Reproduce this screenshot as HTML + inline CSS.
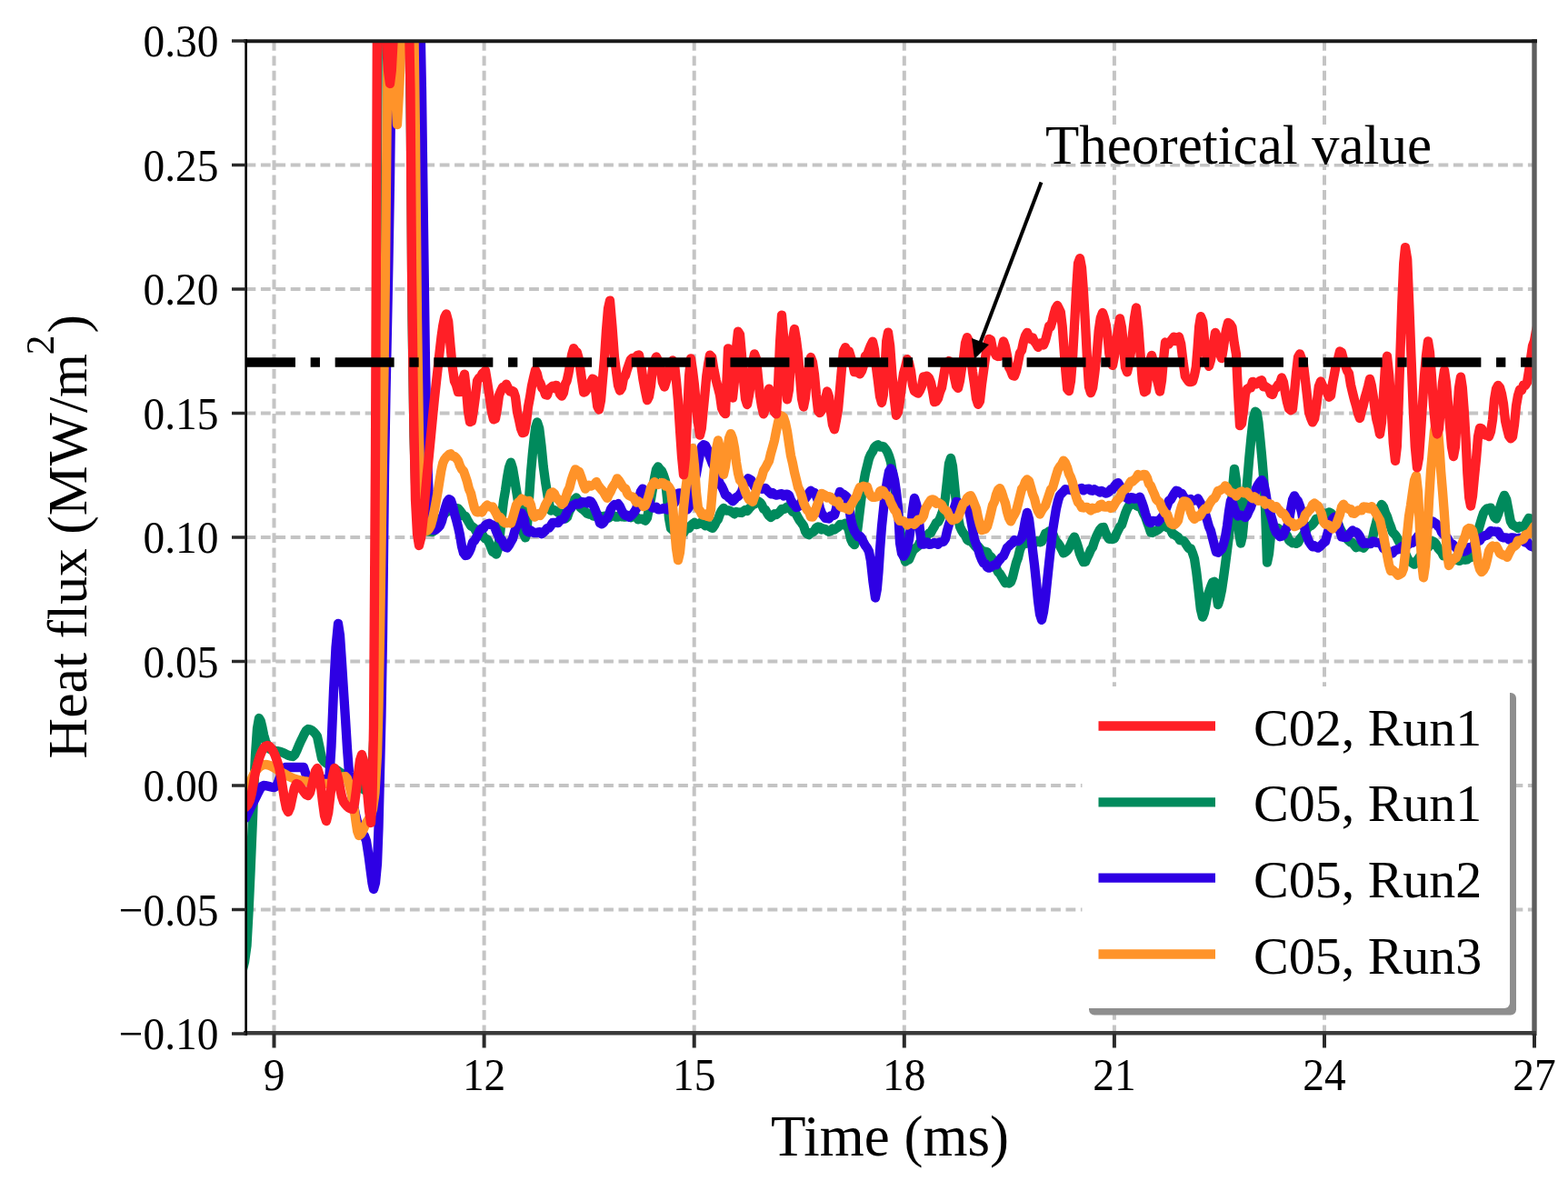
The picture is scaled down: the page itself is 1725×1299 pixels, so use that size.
<!DOCTYPE html>
<html><head><meta charset="utf-8"><title>Heat flux</title>
<style>html,body{margin:0;padding:0;background:#fff;overflow:hidden;}svg{display:block;}text{font-family:"Liberation Serif","Times New Roman",serif;fill:#000;}</style>
</head><body>
<svg width="1725" height="1299" viewBox="0 0 1725 1299">
<rect width="1725" height="1299" fill="#fff"/>
<defs><clipPath id="ax"><rect x="270.5" y="45.0" width="1417.5" height="1092.0"/></clipPath></defs>
<path d="M301.5,45 V1137 M532.6,45 V1137 M763.7,45 V1137 M994.8,45 V1137 M1225.9,45 V1137 M1457,45 V1137 M270.5,181.5 H1688 M270.5,318 H1688 M270.5,454.5 H1688 M270.5,591 H1688 M270.5,727.5 H1688 M270.5,864 H1688 M270.5,1000.5 H1688" stroke="#c4c4c4" stroke-width="4" stroke-dasharray="10.8 5.6" fill="none"/>
<rect x="1146" y="137" width="434" height="43" fill="#fff"/>
<g clip-path="url(#ax)" fill="none" stroke-width="10.3" stroke-linejoin="round" stroke-linecap="round">
<path d="M262,1085 L264.2,1077.2 L266.5,1068 L269,1058.1 L271.5,1040 L273.7,1000 L275.5,960 L278,900 L279.5,862.7 L281,830 L283,801.2 L285,790 L286.8,793.1 L288.5,800.3 L290.2,808.6 L292,815 L294.5,820.8 L297,824 L299,824.8 L301,825.4 L303,825.8 L305,826.1 L307,826.5 L309,827 L311.2,827.8 L313.3,828.9 L315.5,830 L317.7,831 L319.8,831.7 L322,832 L324.2,830.1 L326.5,825.5 L328.8,819.9 L331,815 L333,811 L335,806.8 L337,803.4 L339,802 L341,802.3 L343,803.3 L345,804.9 L347,807.1 L349,810 L351.5,821.9 L354,834 L356.2,837.2 L358.5,839.1 L360.8,840.5 L363,842 L365,843.5 L367,844.9 L369,846.2 L371,847.4 L373,848.7 L375,850 L376.9,851.2 L378.8,852.5 L380.6,853.8 L382.5,855 L384.4,856.2 L386.2,857.5 L388.1,858.8 L390,860 L391.9,861.4 L393.8,863 L395.6,864.6 L397.5,866.2 L399.4,867.7 L401.2,868.9 L403.1,869.7 L405,870 L406.8,865.6 L408.5,852.5 L410.2,830.6 L412,800 L414,500 L415,200 L416,0 L418,0 L420,0 L422,0 L424,0 L426,0 L428,0 L430,0 L432,0 L434,0 L436,0 L438,0 L440,0 L442,0 L444,0 L446,0 L448,0 L450,0 L452,150 L453.5,350 L455.5,480 L457.2,536.1 L459,560 L461.5,576.2 L464,582 L466,582.9 L468,583.7 L470,584.2 L472,584.7 L474,584.9 L476,585 L478,583.5 L480,579.9 L482,575.6 L484,572.1 L486,569.5 L488,566.5 L490,564 L492,562.8 L494,560.6 L496,559.1 L498,557.4 L500,558.8 L502,559.1 L504,559.4 L506,561.5 L508,564.2 L510,567.5 L512,567.8 L514,571.5 L516,575 L518,578.4 L520,579.5 L522,581 L524,584.7 L526,585.5 L528,586.6 L530,586.8 L532,590.5 L534,592.4 L536,593.4 L538,596.8 L540,601.6 L542,607 L544,607.8 L546,609.6 L548,603.5 L550,588.2 L552,567.8 L554,550.8 L556,539.3 L558,525.1 L560,514.3 L562,508.7 L564,515.2 L566,526.8 L568,539.1 L570,551.4 L572,563.9 L574,578.6 L576,586.9 L578,591.4 L580,578 L582,548.6 L584,519.9 L585.8,499.8 L587.5,483.5 L589.2,470.1 L591,464.4 L593.2,471.1 L595.5,490 L597.8,513.4 L600,529.6 L602,542.2 L604,553.8 L606,561.5 L608,560.6 L610,561.2 L612,562.3 L614,563.7 L616,564.2 L618,564.8 L620,569.4 L622,570.5 L624,568.7 L626,563 L628,559.1 L630,554.8 L632,549.3 L634,547.5 L636,550.2 L638,557.7 L640,559.6 L642,560.8 L644,562.8 L646,564.9 L648,565.5 L650,564.6 L652,567.2 L654,567.8 L656,568.2 L658,566.7 L660,567.9 L662,569.2 L664,567.8 L666,567.5 L668,567.3 L670,569.4 L672,567.8 L674,567.2 L676,567.8 L678,568.7 L680,568.6 L682,566.6 L684,568.3 L686,568.5 L688,568.6 L690,566.9 L692,567.7 L694,569.2 L696,568.1 L698,568.2 L700,568.4 L702,571.4 L704,570.8 L706,570.6 L708,571.6 L710,572.6 L712,569.6 L714,559.1 L716,549.3 L718,537.3 L720,526.2 L722,516.3 L724,513.4 L726,516.2 L728,518 L730,522.7 L732,529 L734,548 L736,570 L738,581.2 L740,582.9 L742,584.7 L744,586 L746,584.2 L748,585.8 L750,586.4 L752,586.2 L754,583.2 L756,581.3 L758,581.1 L760,578.1 L762,576.3 L764,574.9 L766,577.1 L768,576.5 L770,575.2 L772,575.6 L774,576.6 L776,578.2 L778,576.8 L780,578.7 L782,580.1 L784,580.8 L786,577.9 L788,573.8 L790,571.1 L792,565.4 L794,561.4 L796,558.8 L798,561.2 L800,561.7 L802,561.3 L804,562.5 L806,563.9 L808,565.3 L810,562.9 L812,563.4 L814,563.8 L816,564 L818,562.2 L820,560.9 L822,562 L824,559.6 L826,557.4 L828,554.2 L830,554.4 L832,553.3 L834,551.3 L836,552.4 L838,555.1 L840,559.7 L842,560.8 L844,564.3 L846,567.3 L848,568.9 L850,567.4 L852,565.3 L854,566.1 L856,564.4 L858,562.8 L860,559.9 L862,560.1 L864,559.4 L866,557.4 L868,557.9 L870,559.5 L872,563 L874,563.1 L876,565.8 L878,569.4 L880,572.9 L882,575.4 L884,578.2 L886,584.4 L888,587.2 L890,588.2 L892,585.9 L894,585.4 L896,583.9 L898,580.4 L900,579.5 L902,579.9 L904,582.5 L906,581.5 L908,582.2 L910,583.8 L912,584.8 L914,584 L916,581.5 L918,582.5 L920,581.1 L922,579.7 L924,576.9 L926,577 L928,577.4 L930,575.6 L932,578 L934,583.9 L936,593 L938,597.2 L940,599.2 L942,592.6 L944,577 L946,560.5 L948,544.1 L950,531.6 L952,520.5 L954,512.5 L956,504.2 L958,499.6 L960,496.7 L962,492.2 L964,490.2 L966,489.3 L968,491.6 L970,490.9 L972,491.3 L974,493.7 L976,496.6 L978,501.5 L980,508 L982,520.2 L984,533.5 L986,549.2 L988,564 L990,579.5 L992,597.2 L994,611.1 L996,617.6 L998,616.1 L1000,615.5 L1002,610.8 L1004,606.2 L1006,603.8 L1008,602.3 L1010,600.7 L1012,596.5 L1014,596.2 L1016,594.7 L1018,592.7 L1020,588.8 L1022,586.6 L1024,586.1 L1026,582.2 L1028,579 L1030,575 L1032,574.2 L1034,570.6 L1036,565.5 L1038,559.7 L1040,547.1 L1042,529.1 L1044,509.9 L1046,503.9 L1048,512.9 L1050,532.7 L1052,553.4 L1054,569.1 L1056,579.3 L1058,583.5 L1060,586.7 L1062,588.9 L1064,593.6 L1066,594.9 L1068,595.2 L1070,597.4 L1072,599.6 L1074,602 L1076,601 L1078,603.3 L1080,605.4 L1082,607 L1084,606.7 L1086,607.2 L1088,610.9 L1090,612.2 L1092,615.2 L1094,618.4 L1096,624.9 L1098,629.2 L1100,631.2 L1102,634.5 L1104,637.8 L1106,641.2 L1108,640.4 L1110,641.6 L1112,640.1 L1114,634.9 L1116,626.6 L1118,618.8 L1120,613.4 L1122,604.8 L1124,600 L1126,597.4 L1128,598.1 L1130,597.6 L1132,595.5 L1134,595.5 L1136,595.9 L1138,597.4 L1140,595.1 L1142,595.4 L1144,596.3 L1146,595.6 L1148,591.7 L1150,586.9 L1152,586.1 L1154,584.4 L1156,585.1 L1158,586.5 L1160,591.6 L1162,595.9 L1164,597.4 L1166,600.6 L1168,604.1 L1170,608.4 L1172,607.3 L1174,605.6 L1176,602.6 L1178,598.4 L1180,593.8 L1182,590.6 L1184,595.4 L1186,601.6 L1188,609.1 L1190,614.1 L1192,618.2 L1194,618.1 L1196,613.5 L1198,609.4 L1200,604.7 L1202,601.8 L1204,595.6 L1206,590.5 L1208,586.2 L1210,582.5 L1212,580.4 L1214,580 L1216,585.5 L1218,589.6 L1220,592.9 L1222,592.9 L1224,593.1 L1226,592.2 L1228,587.4 L1230,583.5 L1232,579.4 L1234,577.4 L1236,571.1 L1238,564.7 L1240,559.9 L1242,556.4 L1244,554.6 L1246,552.7 L1248,555 L1250,556 L1252,557.1 L1254,557.1 L1256,559.7 L1258,564.6 L1260,568.3 L1262,574.1 L1264,579.4 L1266,585.7 L1268,586 L1270,584.5 L1272,583.8 L1274,582.6 L1276,580.8 L1278,577.1 L1280,578.2 L1282,579 L1284,580.2 L1286,580.6 L1288,583.1 L1290,587.2 L1292,588 L1294,589.6 L1296,590.7 L1298,594.1 L1300,594.4 L1302,594.8 L1304,597.4 L1306,600.5 L1308,603.4 L1310,603.5 L1312,608.4 L1314,614.5 L1316.2,629 L1318.5,648.7 L1320.8,669.8 L1323,678.7 L1324.8,674.3 L1326.5,665.9 L1328.2,656.2 L1330,651.1 L1332,645.4 L1334,640.5 L1336,639.7 L1338,652.3 L1340,665.1 L1342,658.5 L1344,648.9 L1346,635.4 L1348,620.7 L1350,605.2 L1352,589 L1354,571.2 L1356,537.4 L1358,515.8 L1359.8,527.8 L1361.5,557.3 L1363.2,586.6 L1365,597.5 L1366.8,589.8 L1368.5,571.8 L1370.2,550.1 L1372,531.2 L1374.2,504.8 L1376.5,480.7 L1378.8,460.7 L1381,452.6 L1382.8,454.3 L1384.5,464.9 L1386.2,481.8 L1388,500.2 L1390,523.7 L1392,558.9 L1394,618.7 L1396,609 L1398,589 L1400,579.6 L1402,580.3 L1404,582.2 L1406,580.9 L1408,582.6 L1410,584.9 L1412,586.7 L1414,587.7 L1416,589.2 L1418,594.1 L1420,595.9 L1422,597.3 L1424,596.9 L1426,597.9 L1428,596.9 L1430,592.9 L1432,590.5 L1434,587.8 L1436,586.4 L1438,581.5 L1440,579.3 L1442,578.4 L1444,576.8 L1446,574.1 L1448,570.7 L1450,571.1 L1452,569 L1454,567.1 L1456,564.6 L1458,565.1 L1460,565.4 L1462,563.4 L1464,564.2 L1466,566.2 L1468,570.7 L1470,572.2 L1472,575.7 L1474,580.6 L1476,584.8 L1478,587.6 L1480,588.5 L1482,592.8 L1484,594.8 L1486,596.5 L1488,597 L1490,599.8 L1492,602.2 L1494,601.2 L1496,601.5 L1498,601.4 L1500,602.7 L1502,600.2 L1504,598.5 L1506,598 L1508,596.7 L1510,592.1 L1512,582.4 L1514,575 L1516,566 L1518,559 L1520,555 L1522,557.6 L1524,563.8 L1526,568.2 L1528,574.4 L1530,579.4 L1532,585.3 L1534,587.3 L1536,589.7 L1538,593.7 L1540,597.4 L1542,600.6 L1544,602.3 L1546,608.4 L1548,613.1 L1550,616.7 L1552,618 L1554,619.6 L1556,620.7 L1558,617.5 L1560,615.1 L1562,612.1 L1564,611.6 L1566,608.1 L1568,604.7 L1570,603.1 L1572,601 L1574,599.1 L1576,595.2 L1578,596.1 L1580,598.7 L1582,602.9 L1584,605.2 L1586,607.4 L1588,611.3 L1590,611.4 L1592,612.5 L1594,613.2 L1596,616 L1598,615.9 L1600,614.9 L1602,615.8 L1604,616.4 L1606,616.9 L1608,614.4 L1610,615.4 L1612,615.8 L1614,615.4 L1616,613.8 L1618,613.1 L1620,612.3 L1622,604.3 L1624,594.9 L1626,584.4 L1628,577.5 L1630,570.6 L1632,564.5 L1634,561.4 L1636,559.3 L1638,559.1 L1640,558.6 L1642,563.7 L1644,568.7 L1646,570.6 L1648.2,565.3 L1650.5,557.1 L1652.8,550 L1655,544.8 L1657.2,549.2 L1659.5,561.2 L1661.8,573.4 L1664,577.1 L1666,578.4 L1668,579.4 L1670,580.9 L1672,578.8 L1674,579.6 L1676,579.5 L1678,577.1 L1680,573.2 L1682,569.8 L1684,571.1 L1686,570.7 L1688,571.4 L1690,572.1 L1692,575.6" stroke="#008a5c"/>
<path d="M270,900 L272,895.8 L274,891.7 L276,887.6 L278,883.7 L280,880 L282,876 L284,871.8 L286,867.9 L288,865.1 L290,864 L292,864.1 L294,864.5 L296,865 L298,865.5 L300,865.9 L302,866 L304,864.4 L306,860.3 L308,855 L310,849.7 L312,845.6 L314,844 L316,844 L318,844 L320,844 L322,844 L324,844 L326,844 L328,844 L330,844 L332,844 L334,844 L336.5,851.5 L339,859 L340.8,858.7 L342.7,858 L344.5,857 L346.3,856 L348.2,855.3 L350,855 L352,855.4 L354,856.3 L356,857.5 L358,858.7 L360,859.6 L362,860 L364.5,820.9 L367,760 L369.5,712.1 L372,686 L374,699.1 L376,728.7 L378,760 L380,790.8 L382,823.4 L384,850 L386,867.1 L388,880 L389.8,889.9 L391.5,897.8 L393.2,904.3 L395,910 L397,914.5 L399,916.9 L401,919.6 L403,925 L405.5,940.9 L408,960 L409.5,971.4 L411,978 L413,971 L415,950 L416.5,910.4 L418,850 L419.5,787.1 L421,700 L423,520 L424.5,431.8 L426,360 L427.5,285.5 L429,200 L431.5,0 L433.5,0 L435.6,0 L437.6,0 L439.6,0 L441.7,0 L443.7,0 L445.7,0 L447.8,0 L449.8,0 L451.8,0 L453.9,0 L455.9,0 L457.9,0 L460,0 L462,0 L464,100 L466,250 L468,400 L470,500 L471.5,539.9 L473,560 L475,577.2 L477,583 L478.8,582.7 L480.5,581.7 L482.2,580.2 L484,578.1 L486,573.3 L488,565.3 L490,558 L492,551.8 L494,549.1 L496,550.4 L498,556.3 L500,565 L502,571.8 L504,579.6 L506,588.5 L508,600.9 L510,608.3 L512,611 L514,610.6 L516,607.3 L518,602.8 L520,596.5 L522,594.7 L524,591.2 L526,587.3 L528,583.1 L530,581.1 L532,581 L534,577.7 L536,576.5 L538,575.6 L540,577.2 L542,577.4 L544,579.2 L546,584.4 L548,589 L550,592.8 L552,593.7 L554,598.5 L556,601.6 L558,602.4 L560,599.7 L562,596 L564,592.7 L566,585.3 L568,579.6 L570,572.9 L572,568.2 L574,564.4 L576,568 L578,578.5 L580,584.4 L582,585.4 L584,583.5 L586,585.1 L588,586.2 L590,586.2 L592,585.3 L594,585.1 L596,587.3 L598,585.4 L600,583.6 L602,581 L604,580.6 L606,578.2 L608,574.9 L610,574.9 L612,574.8 L614,575.1 L616,572 L618,571.7 L620,570.5 L622,567.3 L624,562.9 L626,559.1 L628,558.8 L630,556.1 L632,555 L634,553.6 L636,554.7 L638,554.2 L640,552 L642,552.4 L644,552.5 L646,553.4 L648,551 L650,551.5 L652,554.4 L654,558.8 L656,563.7 L658,568.6 L660,575.4 L662,576.3 L664,574.8 L666,571.6 L668,569.6 L670,566 L672,560 L674,557.1 L676,555 L678,555.3 L680,554.2 L682,557 L684,561.5 L686,565 L688,566.9 L690,566.7 L692,568.7 L694,567.4 L696,565.6 L698,563 L700.2,559.4 L702.5,550.4 L704.8,540.9 L707,537.6 L708.8,540 L710.7,544 L712.5,546.3 L714.3,551.8 L716.2,556.6 L718,558.6 L720,558.7 L722,557.7 L724,560.3 L726,560.3 L728,559.9 L730,559 L732,559.9 L734,560.5 L736,557.5 L738,556.4 L740,554.7 L742,553.2 L744,547 L746,542.7 L748,542.4 L750,545.4 L752,551.3 L754,555.7 L756,560.6 L758,557.7 L760,549.8 L762,538.9 L764,529.2 L766,521.4 L768,509.9 L770,499.6 L772,491.1 L774,489.3 L776,489.9 L778,493.9 L780,500.3 L782,505.3 L784,510.6 L786,514.3 L788,521.9 L790,527.6 L792,532 L794,535.1 L796,539.2 L798,544.3 L800,545.3 L802,547.5 L804,548.9 L806,551.3 L808,549.5 L810,546.9 L812,546 L814,543.6 L816,540.7 L817.8,534.9 L819.5,531.2 L821.2,528.6 L823,526.3 L824.8,527.1 L826.5,528.3 L828.2,531.9 L830,535.4 L832,534.8 L834,535.4 L836,535.6 L838,537.9 L840,537.5 L842,536.9 L844,539.3 L846,541.2 L848,543.2 L850,542.1 L852,544 L854,544.7 L856,544.3 L858,543.3 L860,543.2 L862,545.4 L864,543.9 L866,543.6 L868,544.7 L870,550 L872,553.6 L874,555.4 L876,558 L878,557.5 L880,556 L882,551.1 L884,549.8 L886,548.4 L888,545.5 L890,542 L892,539.8 L894,541.3 L896,541.7 L898,545.6 L900,551 L902,559.1 L904,564.8 L906,567.2 L908,569.9 L910,570.1 L912,570.5 L914,567.4 L916,567.1 L918,566.7 L920,559.5 L922,547.5 L924,540.9 L926,543.6 L928,543.7 L930,545.1 L932,547.1 L934,557.1 L936,570.9 L938,579 L940,584.1 L942,587.2 L944,590.2 L946,589.6 L948,592.2 L950,596.6 L952,600.1 L954,602.8 L956,606.7 L958,617.1 L960.5,640.1 L963,657.5 L964.8,648.2 L966.5,628.7 L968.2,602.6 L970,579 L972,559.8 L974,541.8 L976,529.3 L978,518.6 L980,515.3 L982,519.3 L984,527.6 L986,540.7 L988,558.6 L990,597 L992,608.5 L994,611.8 L996,608.5 L998,602.9 L1000,593.7 L1002,579.2 L1004,560.3 L1006,547.9 L1008,554.2 L1010,563.4 L1012,583.2 L1014,598.5 L1016,598.6 L1018,598.2 L1020,596.5 L1022,598.8 L1024,598.6 L1026,597.9 L1028,597 L1030,597.8 L1032,598.8 L1034,596.4 L1036,596.2 L1038,595.7 L1040,592.6 L1042,583.7 L1044,576.6 L1046,570.9 L1048,564.2 L1050,558.1 L1052,552.1 L1054,552.6 L1056,554.7 L1058,558 L1060,559.1 L1062,558.8 L1064,559.4 L1066,561.4 L1068,571 L1070,582.4 L1072,593.3 L1074,598.6 L1076,603.8 L1078,610.6 L1080,615.5 L1082,619.3 L1084,620.1 L1086,623.8 L1088,624.7 L1090,623.8 L1092,622.1 L1094,621.2 L1096,621.4 L1098,617.7 L1100,615.5 L1102,612.9 L1104,611.5 L1106,607 L1108,602.3 L1110,600.6 L1112,598.5 L1114,597.2 L1116,594.1 L1118,595.1 L1120,595.2 L1122,593.8 L1124,591.3 L1126,583.2 L1128,572.3 L1130,563.8 L1132,570.8 L1134,586.7 L1136,605.1 L1138,621.4 L1140,640.1 L1142,660.7 L1144,675.7 L1146,681.9 L1148,673.1 L1150,658.5 L1152,639.3 L1154,620.3 L1156,602 L1158,583.9 L1160,571.4 L1162,559.2 L1164,550.7 L1166,544.7 L1168,542.6 L1170,540.6 L1172,538.1 L1174,538.7 L1176,538.6 L1178,539.1 L1180,536.8 L1182,537.7 L1184,538.8 L1186,538.4 L1188,537.5 L1190,537 L1192,539.3 L1194,538.1 L1196,537.8 L1198,537.6 L1200,539.4 L1202,539.8 L1204,538.2 L1206,539.5 L1208,540.2 L1210,541.5 L1212,539.9 L1214,541 L1216,542.6 L1218,542.4 L1220,541 L1222,538.2 L1224,538.2 L1226,534.8 L1228,532.4 L1230,531.1 L1232,534.2 L1234,538.6 L1236,541.3 L1238,546.1 L1240,548.1 L1242,549.2 L1244,547.1 L1246,547.3 L1248,548.7 L1250,548.5 L1252,547.9 L1254,546.7 L1256,551.8 L1258,557.5 L1260,564.6 L1262,570.4 L1264,574.4 L1266,575.1 L1268,572.8 L1270,573.2 L1272,573.1 L1274,573.9 L1276,571.3 L1278,569.2 L1280,566.6 L1282,561.5 L1284,556.1 L1286,550.6 L1288,549.6 L1290,546 L1292,542.5 L1294,539.8 L1296,540.2 L1298,542.3 L1300,542.7 L1302,546.1 L1304,548.8 L1306,551.3 L1308,549.5 L1310,549 L1312,550.5 L1314,550.5 L1316,550.2 L1318,548.5 L1320,552 L1322,555.5 L1324,559.9 L1326,565.1 L1328,572.1 L1330,579.4 L1332,583.9 L1334,592 L1336,599.8 L1338,607 L1340,607.8 L1342,605.8 L1344,604 L1346,598.4 L1348,590.5 L1350,578.5 L1352,562.7 L1354,550.7 L1356,553.6 L1358,559.8 L1360,564.7 L1362,567.5 L1364,566.4 L1366,567 L1368,567.5 L1370,569.2 L1372,566.6 L1374,561.8 L1376,558 L1378,551.8 L1380,545.3 L1382,536.9 L1384,533.3 L1386,530.2 L1388,528.1 L1390,531 L1392,540.1 L1394,552.6 L1396,559.6 L1398,566.4 L1400,573.3 L1402,581.2 L1404,585.5 L1406,587.5 L1408,590.2 L1410,589.8 L1412,588.2 L1414,583 L1416,580.1 L1418,572.7 L1420,560.7 L1422,549.7 L1424,545.3 L1426,548.9 L1428,551.2 L1430,556.6 L1432,563.4 L1434,574.6 L1436,585.1 L1438,590.8 L1440,595.7 L1442,598.8 L1444,601.3 L1446,600.3 L1448,601.8 L1450,602.6 L1452,601.3 L1454,599.2 L1456,597.1 L1458,595.8 L1460,588.4 L1462,581 L1464,574.2 L1466,570.8 L1468,568.7 L1470,569.3 L1472,576.4 L1474,583.8 L1476,590.5 L1478,590.8 L1480,591 L1482,590.8 L1484,588.3 L1486,585.7 L1488,583.5 L1490,585.3 L1492,585.2 L1494,587.2 L1496,590.2 L1498,595 L1500,597.9 L1502,596.8 L1504,597.7 L1506,597.7 L1508,598.1 L1510,595.5 L1512,595.6 L1514,596.8 L1516,596.9 L1518,597.6 L1520,598.6 L1522,603.2 L1524,604.5 L1526,605.7 L1528,606.7 L1530,608.5 L1532,608.7 L1534,605.4 L1536,604.9 L1538,604.1 L1540,604.2 L1542,601.3 L1544,600.5 L1546,601.1 L1548,599.8 L1550,598.3 L1552,595.9 L1554,597 L1556,594.9 L1558,592.2 L1560,589.5 L1562,588.2 L1564,586.7 L1566,582 L1568,580.3 L1570,578.5 L1572,577.9 L1574,574.7 L1576,573.4 L1578,574.7 L1580,576 L1582,578.9 L1584,580.6 L1586,585.4 L1588,587.7 L1590,589.5 L1592,591.4 L1594,594.7 L1596,598.3 L1598,598.3 L1600,600.6 L1602,602.6 L1604,605.3 L1606,604.8 L1608,604.7 L1610,606.6 L1612,606.2 L1614,605.2 L1616,602.3 L1618,602.9 L1620,601.3 L1622,598.6 L1624,596.1 L1626,594.9 L1628,594.8 L1630,591.3 L1632,590.2 L1634,588.9 L1636,588.8 L1638,586.1 L1640,583.9 L1642,584.7 L1644,584.5 L1646,585.1 L1648,584.6 L1650,588.4 L1652,590.7 L1654,591.4 L1656,591.3 L1658,591.6 L1660,593.5 L1662,591.5 L1664,591.5 L1666,591.6 L1668,593.1 L1670,592.4 L1672,591.7 L1674,594.2 L1676,595.4 L1678,596.6 L1680,595.7 L1682,598.6 L1684,600.6 L1686,601.3 L1688,602.1 L1690,603.8 L1692,607.5" stroke="#2e00e4"/>
<path d="M270,880 L272,872.6 L274,865.5 L276,859.1 L278,853.8 L280,850 L282,847.2 L284,845 L286,843.2 L288,842 L290,841.2 L292,841 L294.1,841.2 L296.2,841.8 L298.4,842.8 L300.5,843.9 L302.6,845.2 L304.8,846.5 L306.9,847.8 L309,849 L310.8,850 L312.7,851 L314.5,852.1 L316.3,853.1 L318.2,854.1 L320,855 L322,855.8 L324,856.5 L326,857.2 L328,857.7 L330,858.2 L332,858.6 L334,859 L336,859.3 L338,859.7 L340,860 L342,860.3 L344,860.7 L346,860.9 L348,861.2 L350,861.4 L352,861.6 L354,861.8 L356,861.9 L358,862 L360,862 L362,861.8 L364,861.2 L366,860.3 L368,859.2 L370,858 L372,856.8 L374,855.7 L376,854.8 L378,854.2 L380,854 L382,856.4 L384,862.5 L386,870.9 L388,880 L389.8,890.5 L391.5,903.4 L393.2,914.4 L395,919 L397,917.5 L399,914 L401,909.4 L403,905 L404.8,902.1 L406.5,899.5 L408.2,895.9 L410,890 L412.5,872.3 L415,830 L416.5,776.6 L418,700 L419.5,604.4 L421,500 L422.5,407.5 L424,300 L426,100 L427,0 L429.5,7.5 L432,30 L434.5,91 L437,137 L439.5,92 L442,30 L444,8.2 L446,0 L448.2,0 L450.5,0 L452.8,0 L455,0 L457,150 L459,350 L461,480 L462.5,535 L464,560 L466.5,578 L469,584 L471.5,582.5 L474,578 L476,570.5 L478,561 L479.8,551.5 L481.7,540.4 L483.5,529 L485.3,518 L487.2,509.4 L489,505.4 L490.8,503.1 L492.5,501.5 L494.2,499.7 L496,499.3 L498,501.9 L500,502 L502,504 L504,506.6 L506,512.4 L508,516.1 L510,518.1 L512,523.9 L514,529.9 L516,537.9 L518,542.5 L520,551.1 L522,558.9 L524,562.9 L526,563.4 L528,562 L530,563.6 L532,560.1 L534,557.6 L536,555.5 L538,557 L540,557.9 L542,557.4 L544,561.5 L546,565.1 L548,569.3 L550,568.6 L552,571.1 L554,574.3 L556,575.4 L558,575.3 L560,574.4 L562,575.6 L564,569.6 L566,562.6 L568,555.5 L570,552.7 L572,551.3 L574,548.7 L576,550 L578,550.8 L580,552.9 L582,550.8 L584,555.6 L586,564.9 L588,568.7 L590,567.6 L592,565.2 L594,567.1 L596,564.5 L598,560.7 L600,555.3 L602,552 L604,548.4 L606,542.1 L608,541.5 L610,543.2 L612,547.9 L614,548.9 L616,551.6 L618,554.8 L620.1,553.1 L622.2,547.8 L624.4,540.4 L626.5,536.6 L628.6,528.2 L630.8,521.6 L632.9,516.3 L635,517.8 L637.2,518.9 L639.5,525.2 L641.8,532.5 L644,537.7 L646,535.1 L648,533.7 L650,534.6 L652,533.8 L654,532.7 L656,530 L658,533.9 L660,536.5 L662,538.9 L664,541.2 L666,544.8 L668,547.8 L669.8,543.9 L671.7,540.6 L673.5,536.4 L675.3,533.7 L677.2,530.6 L679,526.3 L680.8,528.4 L682.7,531.3 L684.5,534.5 L686.3,536.8 L688.2,537.6 L690,542.6 L692,545 L694,546 L696,546.5 L698,548.8 L700,552.6 L702,551.3 L704,552.7 L706,554 L708,557.2 L710,556 L712,550.7 L714,544.4 L716,536.4 L718,532.8 L720,530.1 L722,532.3 L724,533 L726,532.2 L728,531 L730,531.3 L732,534.4 L734,533.5 L736,535.9 L738,539.3 L740,555.6 L742,580.4 L744,603.3 L746,616.2 L748,607.6 L750,586.7 L752,558.6 L754,540 L756,525.3 L758,509.7 L760,497.5 L762,493 L764,512.4 L766,541.5 L768,559.4 L770,561.6 L772,565.8 L774,566.7 L776,565.5 L778,567.8 L780,568.5 L782,560.5 L784,536.7 L786,513.3 L788,493.8 L790,484.4 L792,492.6 L794,509.4 L796,521.8 L798,513.1 L800,497.4 L802,481.9 L804,477.1 L806,482.3 L808,492.4 L810,508.5 L812,520.4 L814,528.2 L816,530.3 L818,535.4 L820,541.1 L822,545.6 L824,549.4 L826,550.5 L828,552 L830,546 L832,539.3 L834,532.5 L836,528.9 L838,524.7 L840,517.7 L842,514.7 L844,510.7 L846,507.1 L848,498.7 L850,491.8 L852,484.3 L854,474.1 L856,464.5 L858,456.8 L860,457.5 L862,459.1 L864,465.2 L866,474.5 L868,488 L870,501.1 L872,509.5 L874,519.6 L876,527.5 L878,536 L880,539.8 L882,545.8 L884,552.9 L886,557.4 L888,561 L890,562.9 L892,568.4 L894,568.6 L896,565.2 L898,558.4 L900,552.8 L902,548.2 L904,542.8 L906,543.8 L908,544.8 L910,547.4 L912,546.1 L914,546.8 L916,550.1 L918,551.3 L920,552.2 L922,551.6 L924,556.3 L926,557.8 L928,558.3 L930,558.4 L932,560 L934,560.9 L936,555.7 L938,552.7 L940,548.9 L942,546.5 L944,540.3 L946,535.9 L948,535.6 L950,534.7 L952,535.5 L954,535.7 L956,541.8 L958,545.3 L960,546.8 L962,546.9 L964,546.5 L966,545.9 L968,540.4 L970,539.4 L972,540.3 L974,544.2 L976,545.3 L978,547.2 L980,552.9 L982,556.7 L984,560.9 L986,563.1 L988,569.9 L990,573 L992,573.2 L994,573.2 L996,574.4 L998,577.5 L1000,575.3 L1002,575.3 L1004,575.3 L1006,576.8 L1008,574.7 L1010,571.7 L1012,572.2 L1014,570.6 L1016,567.5 L1018,559.6 L1020,556.3 L1022,552.9 L1024,550.1 L1026,549.3 L1028,550 L1030,553.8 L1032,552.6 L1034,553.8 L1036,555.3 L1038,559.4 L1040,561.3 L1042,562.2 L1044,567.1 L1046,570 L1048,572.4 L1050,570.2 L1052,570.8 L1054,569 L1056,563.9 L1058,558.2 L1060,553.2 L1062,552.4 L1064,547.8 L1066,545.9 L1068,545.2 L1070,549.3 L1072,554.3 L1074,559.3 L1076,569.1 L1078,576.9 L1080,583.1 L1082,582.4 L1084,582 L1086,579.3 L1088,572.4 L1090,564.2 L1092,555.8 L1094,551.7 L1096,543.9 L1098,538.9 L1100,537.1 L1102,541.5 L1104,547.9 L1106,553.4 L1108,563.1 L1110,569.8 L1112,573.4 L1114,569.1 L1116,565.8 L1118,561.7 L1120,554.1 L1122,545.9 L1124,537.9 L1126,535.2 L1128,529.8 L1130,527.4 L1132,529 L1134,535.9 L1136,543.5 L1138,548.3 L1140,556.6 L1142,562.2 L1144,565.5 L1146,561.6 L1148,558.7 L1150,556.3 L1152,550.5 L1154,544.5 L1156,538.3 L1158,536.5 L1160,529.8 L1162,522.7 L1164,516.4 L1166,513.1 L1168,510.8 L1170,506.6 L1172,509.2 L1174,513.9 L1176,521.2 L1178,525.1 L1180,530.8 L1182,539.6 L1184,546.8 L1186,552.7 L1188,554.2 L1190,558.2 L1192,558.5 L1194,558 L1196,557.9 L1198,559.6 L1200,561.5 L1202,558.7 L1204,559.5 L1206,558.9 L1208,558.6 L1210,555.4 L1212,554.8 L1214,557.4 L1216,557.6 L1218,557.7 L1220,555.9 L1222,559 L1224,558.2 L1226,555 L1228,551.5 L1230,549.2 L1232,547.7 L1234,541.6 L1236,539.4 L1238,537.5 L1240,537.1 L1242,532.9 L1244,529.5 L1246,529.7 L1248,527.7 L1250,525.9 L1252,522 L1254,523.6 L1256,523.3 L1258,521.8 L1260,522.1 L1262,525.8 L1264,532.3 L1266,534.4 L1268,539.3 L1270,543.6 L1272,549 L1274,551 L1276,552.7 L1278,558.2 L1280,561.5 L1282,564.7 L1284,565.5 L1286,571.5 L1288,575.7 L1290,577 L1292,577.1 L1294,575.3 L1296,572.7 L1298,563.4 L1300,556.5 L1302,551.5 L1304,551.4 L1306,552.4 L1308,555.3 L1310,563.4 L1312,568.5 L1314,570.9 L1316,567.7 L1318,568.3 L1320,567.6 L1322,564.3 L1324,561.2 L1326,559.1 L1328,559.9 L1330,555.1 L1332,552 L1334,549.1 L1336,548.1 L1338,544.7 L1340,539.8 L1342,539.5 L1344,538.1 L1346,537.5 L1348,534.3 L1350,536.6 L1352,540 L1354,541.4 L1356,542.5 L1358,542.8 L1360,545.6 L1362,542.9 L1364,541.3 L1366,540.5 L1368,542.1 L1370,542.5 L1372,541.2 L1374,544.6 L1376,546.4 L1378,548.3 L1380,546.4 L1382,548.2 L1384,550.8 L1386,550.6 L1388,550.6 L1390,550.6 L1392,554.7 L1394,554 L1396,554 L1398,554.7 L1400,557.4 L1402,558.8 L1404,557.1 L1406,559.9 L1408,561.9 L1410,565 L1412,564.6 L1414,567.5 L1416,571.9 L1418,573.4 L1420,574.7 L1422,575 L1424,579.2 L1426,578.4 L1428,576.8 L1430,575 L1432,574.2 L1434,572.2 L1436,566.1 L1438,564.1 L1440,561.4 L1442,559.8 L1444,555 L1446,553.5 L1448,555.1 L1450,556.5 L1452,560.9 L1454,565.4 L1456,574.1 L1458,576.6 L1460,576.9 L1462,577.6 L1464,579.7 L1466,581.5 L1468,578.6 L1470,577.1 L1472,571.6 L1474,566 L1476,557.7 L1478,554.7 L1480,557.6 L1482,558.6 L1484,560.1 L1486,560.1 L1488,564.5 L1490,564.8 L1492,563.1 L1494,561.4 L1496,561.1 L1498,561.4 L1500,557.3 L1502,557.5 L1503.8,557.9 L1505.5,559.4 L1507.2,559.5 L1509,557.1 L1510.8,559.8 L1512.7,563.1 L1514.5,566 L1516.3,569.3 L1518.2,572.4 L1520,580.9 L1522,589.7 L1524,599.7 L1526,610.6 L1528,620.8 L1530,627.9 L1532,626.9 L1534,628.7 L1536,630.3 L1538,632.8 L1540,631.7 L1542,630.4 L1544,625.6 L1546,608.4 L1548,587.8 L1550,568.1 L1552,555.8 L1554,541.4 L1556,528.4 L1558,523.1 L1560,541 L1562,582 L1564,617.8 L1566,635.3 L1568,621.9 L1570,591 L1572,551.3 L1574,518.3 L1576,495.8 L1578,474 L1580,464.7 L1581.8,470.6 L1583.5,491.5 L1585.2,518.7 L1587,540.3 L1588.8,563.3 L1590.5,588.5 L1592.2,610.8 L1594,622 L1596,618.8 L1598,616.6 L1600,614.3 L1602,613.3 L1604,609.1 L1606,602.2 L1608,599.1 L1610,593.9 L1612,589.2 L1614,582.3 L1616,581 L1618,581.3 L1620,583.7 L1622,592.2 L1624,604 L1626,619 L1628,626.1 L1630,629.2 L1632,627.2 L1634,623.4 L1636,615.8 L1638,606 L1640,602.4 L1642,600.5 L1644,601.8 L1646,600.8 L1648,604.3 L1650,608.6 L1652,609.8 L1654,610.7 L1656,610.7 L1658,612.9 L1660,608.8 L1662,604.9 L1664,601.8 L1666,601 L1668,599.2 L1670,594.6 L1672,594.8 L1674,593.7 L1676,592.9 L1678,588.6 L1680,587.5 L1682,587.5 L1684,584.5 L1686,581.8 L1688,578.7 L1690,579.8 L1692,576.3" stroke="#ff9329"/>
<path d="M270,888 L272.5,885.3 L275,880 L276.8,872.8 L278.5,863.3 L280.2,853.3 L282,845 L284,837.7 L286,831.5 L288,826.6 L290,823 L292,820.8 L294,820 L296.2,820.7 L298.3,822.8 L300.5,826.2 L302.7,830.9 L304.8,836.8 L307,844 L309,853.7 L311,866.4 L313,879.2 L315,889 L317,893 L319.2,888.2 L321.5,877.5 L323.8,866.8 L326,862 L328.2,863 L330.3,865.4 L332.5,868.5 L334.7,871.6 L336.8,874 L339,875 L341,871.9 L343,864.4 L345,855.6 L347,848.1 L349,845 L351,851 L353,865.4 L355,882.6 L357,897 L359,903 L361.2,893.9 L363.5,874 L365.8,854.1 L368,845 L370,848.3 L372,856.5 L374,866.7 L376,876.1 L378,882 L380,884.9 L382,887.1 L384,888.7 L386,889.7 L388,890 L390,883.8 L392,868.9 L394,851.1 L396,836.2 L398,830 L400,836.9 L402,852.6 L404,870 L406,891.5 L408,905 L409.5,878.8 L411,800 L413,500 L414,250 L415,0 L417,0 L419,0 L421,0 L423,14.4 L425,46 L427,77.6 L429,92 L430.8,77.6 L432.5,46 L434.2,14.4 L436,0 L437.9,0 L439.9,0 L441.8,0 L443.7,0 L445.6,0 L447.6,0 L449.5,0 L451.5,100 L453,300 L455,450 L457,550 L459,587.5 L461,600 L463.2,591.5 L465.5,570.6 L467.8,544.4 L470,520 L472,500.3 L474,479.4 L476,458.4 L478,438.2 L480,420 L481.8,403.8 L483.7,386.3 L485.5,370.5 L487.3,358 L489.2,348.8 L491,345.3 L493.2,353.6 L495.5,380.3 L497.8,404.3 L500,419.4 L502,423.6 L504,431.2 L506,431.2 L508.5,419.2 L511,411.7 L513,428.8 L515,452.7 L517,464.1 L519,463.3 L521,451.1 L523,436.3 L525,419 L527,415.8 L528.8,415.3 L530.5,411 L532.2,409.6 L534,407.6 L536.2,420.8 L538.5,436.2 L540.8,452.3 L543,461.4 L545,460.5 L547,449.5 L549,434.9 L551,429.8 L553,426 L555,426.5 L557,422.6 L559,427 L561,430.4 L563,429.7 L565,430.6 L567,436.7 L569,453 L571,461.6 L573,471.3 L575,476.2 L577,475.4 L579,464.8 L581,447.5 L583,437 L585,424.3 L587,415.4 L589,407.1 L590.8,410.8 L592.7,418.6 L594.5,421.8 L596.3,426.7 L598.2,428.7 L600,434 L602,434.6 L604,428 L606,426.2 L608,424.6 L610,427.2 L612,423.8 L614,427.3 L616,433.3 L618,435.6 L619.9,432.3 L621.8,422.6 L623.6,419 L625.5,410.3 L627.4,399.3 L629.2,389.6 L631.1,383.1 L633,386.2 L634.8,387.3 L636.7,394.1 L638.5,406.4 L640.3,419.2 L642.2,431.7 L644,430.8 L646,427.5 L648,424.7 L650,420 L652,416.6 L653.8,417.8 L655.5,433.2 L657.2,446.9 L659,450.5 L661,440.6 L663,416.8 L665,393.9 L667,363.2 L669,339.4 L671,330.6 L673.5,359.5 L676,393.3 L678,408.9 L680,423.8 L682,429.5 L684,426.6 L686,416 L688,413.1 L690,406.2 L692,400.6 L693.8,395.6 L695.7,393.9 L697.5,397.3 L699.3,393.1 L701.2,391 L703,390.5 L705.2,400.9 L707.5,417.5 L709.8,429.8 L712,440.2 L714,436.2 L716,424.3 L718,404.8 L720,396.7 L722,392.5 L724.2,396.9 L726.5,404.6 L728.8,420.2 L731,425.5 L733.2,418.5 L735.5,408.2 L737.8,402.7 L740,396.4 L742,400.3 L744,419.3 L746,441.1 L748,472.6 L750,502.1 L752,522.2 L754,503.8 L756,460 L758,413.9 L760,394.3 L762,407.5 L764,423.9 L766,446.9 L768,465.8 L770,478.6 L771.8,471.2 L773.7,451.4 L775.5,433 L777.3,413.2 L779.2,399.9 L781,390.6 L783.2,392.8 L785.5,407 L787.8,418.5 L790,426.6 L792,434.5 L794,448.8 L796,453.1 L798,455.2 L799.5,418.1 L801,383.3 L803.5,414.8 L806,437.6 L808,419.3 L810,382.8 L812,364.6 L814,367.9 L816,390.8 L818,417.9 L820,438.6 L822,445 L824,434.7 L826,420.9 L828,399.1 L830,389.4 L832,394.6 L834,415 L836,434.7 L838,446.9 L840,455.4 L842,449.6 L844,439.6 L846,427.6 L848,432.9 L850,444.3 L852,453.3 L854,455.4 L856,424.6 L858,377.1 L860,346.7 L862,369.4 L864,411.8 L866,439.3 L868,428.5 L870,397.9 L872,373.1 L874,362 L876,373.8 L878,389.6 L880,414.9 L882,438.4 L884,447.5 L886,437.4 L888,415.8 L890,402.7 L892,393 L894,398.4 L896,412.1 L898,434.3 L900,452 L902,454.1 L904,451.3 L906,443.6 L908,438.9 L910,430.5 L912,436.4 L914,453 L916,467.2 L918,472.3 L920,462 L922,450.5 L924,428.2 L926,405.3 L928,386.3 L930,382.2 L932,386.6 L934,386.4 L936,392.8 L938,399.5 L940,409.2 L942,409.4 L944,409.8 L946,411.3 L948,408.1 L950,402 L952,391.5 L954,390.2 L956,384.7 L958,379.7 L960,375.7 L962,384.6 L964,404.4 L966,419.5 L968,436.1 L970,443 L971.8,434.5 L973.5,406.3 L975.2,375.2 L977,365.6 L979.2,380.8 L981.5,413.1 L983.8,438.6 L986,456.9 L988,453.1 L990,440.9 L992,423.9 L994,410.7 L996,403.7 L998,395.1 L1000,398.9 L1002,408 L1004,423.5 L1006,430.2 L1008,431.5 L1010,432.7 L1012,429.5 L1014,424.7 L1016,414.3 L1018,414.1 L1020,413.6 L1022,415.8 L1024,420.7 L1026,430.1 L1028,442.2 L1030,441.4 L1032,438.4 L1034,431.3 L1036,426.6 L1038,414.8 L1040,402.5 L1042,398.6 L1044,397 L1046,401.2 L1048,403.3 L1050,415.4 L1052,424.5 L1054,426.9 L1056,418.8 L1058,405.1 L1060,394.2 L1062,377.4 L1064,371.1 L1066,375.5 L1068,393 L1070,409.2 L1072,422.8 L1074,438.5 L1076,444.8 L1078,441.2 L1080,422.9 L1082,408.5 L1084,393.8 L1086,380.2 L1088,372.8 L1090,373.8 L1092,384.1 L1094,387.1 L1096,391.1 L1098,392 L1100,391.8 L1102,383.9 L1104,375.5 L1106,381.3 L1108,391.2 L1110,404 L1112,407.6 L1114,413 L1116,413.6 L1118,408 L1120,398.6 L1122,388.3 L1124,385.4 L1126,375.7 L1128,369.3 L1130,365.8 L1132,370.4 L1134,373.1 L1136,371.3 L1138,375.6 L1140,378.2 L1142,381.9 L1144,377.5 L1146,378.6 L1148,379.5 L1150,374.6 L1152,367 L1154,359 L1155.8,359.3 L1157.7,353 L1159.5,345.4 L1161.3,339.3 L1163.2,336 L1165,339.4 L1166.8,343.2 L1168.7,358.9 L1170.5,383.4 L1172.3,407.5 L1174.2,427.9 L1176,430.2 L1178,419.1 L1180,394.4 L1182,358.3 L1184,320.9 L1186,289.8 L1188,284.1 L1190,294.4 L1192,321.1 L1194,355.7 L1196,395.1 L1198,425.6 L1200,432.1 L1202.2,426.4 L1204.3,410.5 L1206.5,391.4 L1208.7,363.7 L1210.8,349.6 L1213,344 L1214.8,349.2 L1216.7,357 L1218.5,369.8 L1220.3,389 L1222.2,398.7 L1224,401.9 L1226,392 L1228,377 L1230,362.9 L1232,350.4 L1234,360 L1236,380.3 L1238,404 L1240,409.3 L1242,400.6 L1244,386.9 L1246,367.2 L1248,350 L1250,338.5 L1252.2,358.2 L1254.5,388.8 L1256.8,419.4 L1259,431.3 L1261,430 L1263,414.1 L1265,396.9 L1267,390.9 L1269.2,399.3 L1271.5,412.5 L1273.8,421.2 L1276,430.6 L1278,418.7 L1280,395.3 L1282,376.5 L1283.9,378.5 L1285.8,378.5 L1287.6,375.5 L1289.5,373 L1291.4,370.6 L1293.2,375.2 L1295.1,373.3 L1297,370.5 L1299.2,378.2 L1301.5,397.6 L1303.8,413.7 L1306,417.3 L1308,420.1 L1310,420.1 L1312,419.5 L1314,412.7 L1315.8,403.9 L1317.5,383.3 L1319.2,359 L1321,348.1 L1323.2,353.8 L1325.5,378.9 L1327.8,395.3 L1330,402.9 L1331.8,396.8 L1333.5,387.2 L1335.2,376.6 L1337,365.9 L1338.8,370.1 L1340.5,380.3 L1342.2,389.5 L1344,394.1 L1345.8,383.4 L1347.5,371.2 L1349.2,362 L1351,354.9 L1353.2,356.3 L1355.5,360 L1357.8,377.2 L1360,389.9 L1362,433 L1364,468.2 L1366,466 L1368,451.6 L1370,433.2 L1372,427.8 L1374,426.6 L1376,426.5 L1378,419.8 L1380,420.7 L1382,422.4 L1384,421.1 L1386,419 L1388,418.2 L1390,425.4 L1392,425 L1394,426.4 L1396,427.7 L1398,433.1 L1400,434 L1402,428 L1404,426.7 L1406,423.4 L1408,422.1 L1410,415.5 L1412,420.5 L1414,432.4 L1416,442.4 L1418,449.6 L1420,451.2 L1422,449.9 L1424,431.4 L1426,410.5 L1428,392.8 L1430,389.3 L1432,394.7 L1434,401.1 L1436,418.1 L1438,435.5 L1440,453.4 L1442,459.7 L1444,464.4 L1446.2,460.3 L1448.5,444.3 L1450.8,425.1 L1453,419.5 L1455.2,424.9 L1457.5,427.5 L1459.8,431.6 L1462,436.8 L1464,435.2 L1466,421.4 L1468,411.2 L1470,400.3 L1472,394.5 L1474,386.5 L1476,387.7 L1478,395.6 L1480,401.7 L1482,407.6 L1484,410.7 L1486,423.4 L1488,431.8 L1490,439.7 L1492,446.5 L1494,454.9 L1496,460 L1497.8,452.6 L1499.7,446.2 L1501.5,437.8 L1503.3,431.6 L1505.2,424.5 L1507,416.8 L1508.8,423.8 L1510.7,435.6 L1512.5,449.6 L1514.3,461.3 L1516.2,468.5 L1518,477.5 L1520,464.4 L1522,433.8 L1524,403.1 L1526,391.7 L1528.2,412.7 L1530.5,447.1 L1532.8,487.3 L1535,506.9 L1536.8,491.4 L1538.7,442.7 L1540.5,387 L1542.3,332.9 L1544.2,289.7 L1546,272.1 L1548.2,285.4 L1550.3,335.4 L1552.5,392.4 L1554.7,449.4 L1556.8,491.4 L1559,514.4 L1561,503.4 L1563,475.5 L1565,444 L1567,413.3 L1569,390.8 L1571,375.3 L1573,387.9 L1575,414.7 L1577,446.1 L1579,468.2 L1581,477.5 L1583,471.5 L1585,445.6 L1587,420.8 L1589,407.2 L1591,421.5 L1593,444.1 L1595,468 L1597,491.3 L1599,502.1 L1601,491.4 L1603,455.7 L1605,426.7 L1607,414.6 L1608.8,426.4 L1610.7,451.2 L1612.5,481.5 L1614.3,520.2 L1616.2,547.2 L1618,556.5 L1620,545.8 L1622,524.6 L1624,504.9 L1626,480.4 L1628,470.9 L1630,471.3 L1632,477.1 L1634,478.4 L1636,476.3 L1638,480.1 L1640,474.8 L1642,461.7 L1644,439.4 L1646,427.6 L1648,423.9 L1650,426.1 L1652,433.1 L1654,444.2 L1656,462.8 L1658,471.7 L1660,479.5 L1662,482.3 L1664,480.4 L1666,467 L1668,446.4 L1670,435 L1672,428.6 L1674,429.2 L1676,423.6 L1678,424 L1680,420.6 L1682,408 L1684,394.2 L1686,380.6 L1688,375 L1690,363.7 L1692,355.3 L1694,348.2" stroke="#ff1f26"/>
<path d="M259.95,398.5 H1700" stroke="#000" stroke-width="10.3" stroke-dasharray="65 16.7 10.3 16.7" stroke-linecap="butt"/>
</g>
<path d="M1688,43 V1139" stroke="#5e5e5e" stroke-width="5.4" fill="none"/>
<path d="M268,1136.3 H1690" stroke="#3a3a3a" stroke-width="4.4" fill="none"/>
<path d="M268,45.2 H1691" stroke="#1a1a1a" stroke-width="4" fill="none"/>
<path d="M270.6,43 V1139" stroke="#000" stroke-width="2.6" fill="none"/>
<path d="M301.5,1137 V1152.5 M532.6,1137 V1152.5 M763.7,1137 V1152.5 M994.8,1137 V1152.5 M1225.9,1137 V1152.5 M1457,1137 V1152.5 M1688,1137 V1152.5" stroke="#2a2a2a" stroke-width="4" fill="none"/>
<path d="M270.5,45 H255 M270.5,181.5 H255 M270.5,318 H255 M270.5,454.5 H255 M270.5,591 H255 M270.5,727.5 H255 M270.5,864 H255 M270.5,1000.5 H255 M270.5,1137 H255" stroke="#2a2a2a" stroke-width="3.6" fill="none"/>
<text transform="translate(301.5,1198.5) scale(0.93,1)" font-size="51" text-anchor="middle">9</text>
<text transform="translate(532.6,1198.5) scale(0.93,1)" font-size="51" text-anchor="middle">12</text>
<text transform="translate(763.7,1198.5) scale(0.93,1)" font-size="51" text-anchor="middle">15</text>
<text transform="translate(994.8,1198.5) scale(0.93,1)" font-size="51" text-anchor="middle">18</text>
<text transform="translate(1225.9,1198.5) scale(0.93,1)" font-size="51" text-anchor="middle">21</text>
<text transform="translate(1457,1198.5) scale(0.93,1)" font-size="51" text-anchor="middle">24</text>
<text transform="translate(1688,1198.5) scale(0.93,1)" font-size="51" text-anchor="middle">27</text>
<text transform="translate(240.5,62.3) scale(0.93,1)" font-size="51" text-anchor="end">0.30</text>
<text transform="translate(240.5,198.8) scale(0.93,1)" font-size="51" text-anchor="end">0.25</text>
<text transform="translate(240.5,335.3) scale(0.93,1)" font-size="51" text-anchor="end">0.20</text>
<text transform="translate(240.5,471.8) scale(0.93,1)" font-size="51" text-anchor="end">0.15</text>
<text transform="translate(240.5,608.3) scale(0.93,1)" font-size="51" text-anchor="end">0.10</text>
<text transform="translate(240.5,744.8) scale(0.93,1)" font-size="51" text-anchor="end">0.05</text>
<text transform="translate(240.5,881.3) scale(0.93,1)" font-size="51" text-anchor="end">0.00</text>
<text transform="translate(240.5,1017.8) scale(0.93,1)" font-size="51" text-anchor="end">−0.05</text>
<text transform="translate(240.5,1154.3) scale(0.93,1)" font-size="51" text-anchor="end">−0.10</text>
<text x="979" y="1270.5" font-size="63" text-anchor="middle">Time (ms)</text>
<text transform="translate(95,834.4) rotate(-90)" font-size="61.7">Heat flux (MW/m<tspan dy="-36" dx="-1.5" font-size="44">2</tspan><tspan dy="36" dx="2">)</tspan></text>
<text x="1150" y="180" font-size="61">Theoretical value</text>
<path d="M1145.5,200.5 L1078,378" stroke="#000" stroke-width="4" fill="none"/>
<path d="M1072,395 L1069,372 L1088,379 Z" fill="#000"/>
<rect x="1198" y="762" width="470" height="354.5" rx="6" fill="#8e8e8e"/>
<rect x="1190.5" y="755" width="470.5" height="354" rx="6" fill="#fff"/>
<path d="M1208.5,798.5 H1337" stroke="#ff1f26" stroke-width="10.3"/>
<text x="1379" y="819.5" font-size="58">C02, Run1</text>
<path d="M1208.5,882.4 H1337" stroke="#008a5c" stroke-width="10.3"/>
<text x="1379" y="903.4" font-size="58">C05, Run1</text>
<path d="M1208.5,965.6 H1337" stroke="#2e00e4" stroke-width="10.3"/>
<text x="1379" y="986.6" font-size="58">C05, Run2</text>
<path d="M1208.5,1049.5 H1337" stroke="#ff9329" stroke-width="10.3"/>
<text x="1379" y="1070.5" font-size="58">C05, Run3</text>
</svg>
</body></html>
